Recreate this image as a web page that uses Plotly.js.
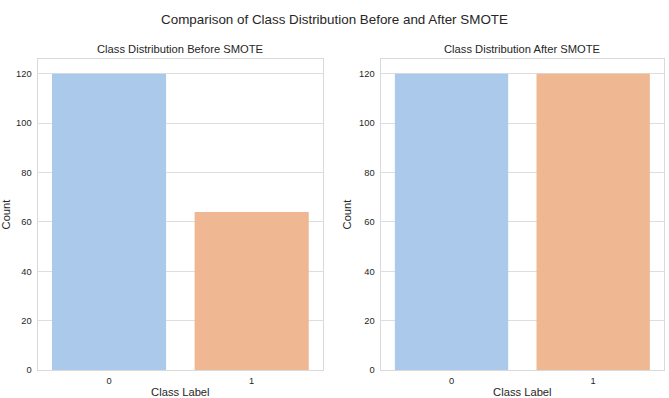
<!DOCTYPE html>
<html>
<head>
<meta charset="utf-8">
<script src="https://cdn.plot.ly/plotly-3.0.1.min.js"></script>
<style>html,body{margin:0;padding:0;background:#fff;}#chart{width:669px;height:398px;}</style>
</head>
<body>
<div id="chart"></div>
<script>
// Data
const categories = ['0', '1'];
const countsBefore = [120, 64];
const countsAfter = [120, 120];
const barColors = ['#abc9ea', '#efb792'];

const mainTitle = 'Comparison of Class Distribution Before and After SMOTE';
const titleBefore = 'Class Distribution Before SMOTE';
const titleAfter = 'Class Distribution After SMOTE';
const xLabel = 'Class Label';
const yLabel = 'Count';

const FONT = '"Liberation Sans", Arial, sans-serif';
const TXT = '#262626';

const traces = [
  {type: 'bar', x: categories, y: countsBefore, marker: {color: barColors, line: {width: 0}}, xaxis: 'x', yaxis: 'y', hoverinfo: 'x+y', showlegend: false},
  {type: 'bar', x: categories, y: countsAfter, marker: {color: barColors, line: {width: 0}}, xaxis: 'x2', yaxis: 'y2', hoverinfo: 'x+y', showlegend: false}
];

function xax(domain, anchor) {
  return {
    domain: domain, anchor: anchor, type: 'category', range: [-0.5, 1.5],
    showgrid: false, zeroline: false, showline: true, mirror: true,
    linecolor: '#d9d9d9', linewidth: 1.2, ticks: '', ticklabelstandoff: 2,
    tickfont: {family: FONT, size: 9.3, color: TXT},
    title: {text: xLabel, font: {family: FONT, size: 11.2, color: TXT}, standoff: 2},
    automargin: false, fixedrange: true
  };
}
function yax(domain, anchor) {
  return {
    domain: domain, anchor: anchor, range: [0, 126], tickvals: [0, 20, 40, 60, 80, 100, 120],
    showgrid: true, gridcolor: '#dedede', gridwidth: 1, zeroline: false,
    showline: true, mirror: true, linecolor: '#d9d9d9', linewidth: 1.2, ticks: '', ticklabelstandoff: 3,
    tickfont: {family: FONT, size: 9.3, color: TXT},
    title: {text: yLabel, font: {family: FONT, size: 11.2, color: TXT}, standoff: 5},
    automargin: false, fixedrange: true
  };
}

const layout = {
  width: 669, height: 398,
  margin: {l: 0, r: 0, t: 0, b: 0},
  paper_bgcolor: '#ffffff', plot_bgcolor: '#ffffff',
  bargap: 0.2,
  font: {family: FONT, color: TXT},
  title: {text: mainTitle, font: {family: FONT, size: 13.4, color: TXT}, x: 0.5, xanchor: 'center', y: 1 - 19/398, yanchor: 'middle', xref: 'paper', yref: 'paper'},
  xaxis: xax([37.7/669, 323/669], 'y'),
  yaxis: yax([28/398, 339/398], 'x'),
  xaxis2: xax([380.7/669, 664/669], 'y2'),
  yaxis2: yax([28/398, 339/398], 'x2'),
  annotations: [
    {text: titleBefore, xref: 'paper', yref: 'paper', x: (37.7 + 323) / 2 / 669, y: 1 - 49.3/398, xanchor: 'center', yanchor: 'middle', showarrow: false, font: {family: FONT, size: 11.2, color: TXT}},
    {text: titleAfter, xref: 'paper', yref: 'paper', x: (380.7 + 664) / 2 / 669, y: 1 - 49.3/398, xanchor: 'center', yanchor: 'middle', showarrow: false, font: {family: FONT, size: 11.2, color: TXT}}
  ]
};

Plotly.newPlot('chart', traces, layout, {displayModeBar: false, staticPlot: true});
</script>
</body>
</html>
